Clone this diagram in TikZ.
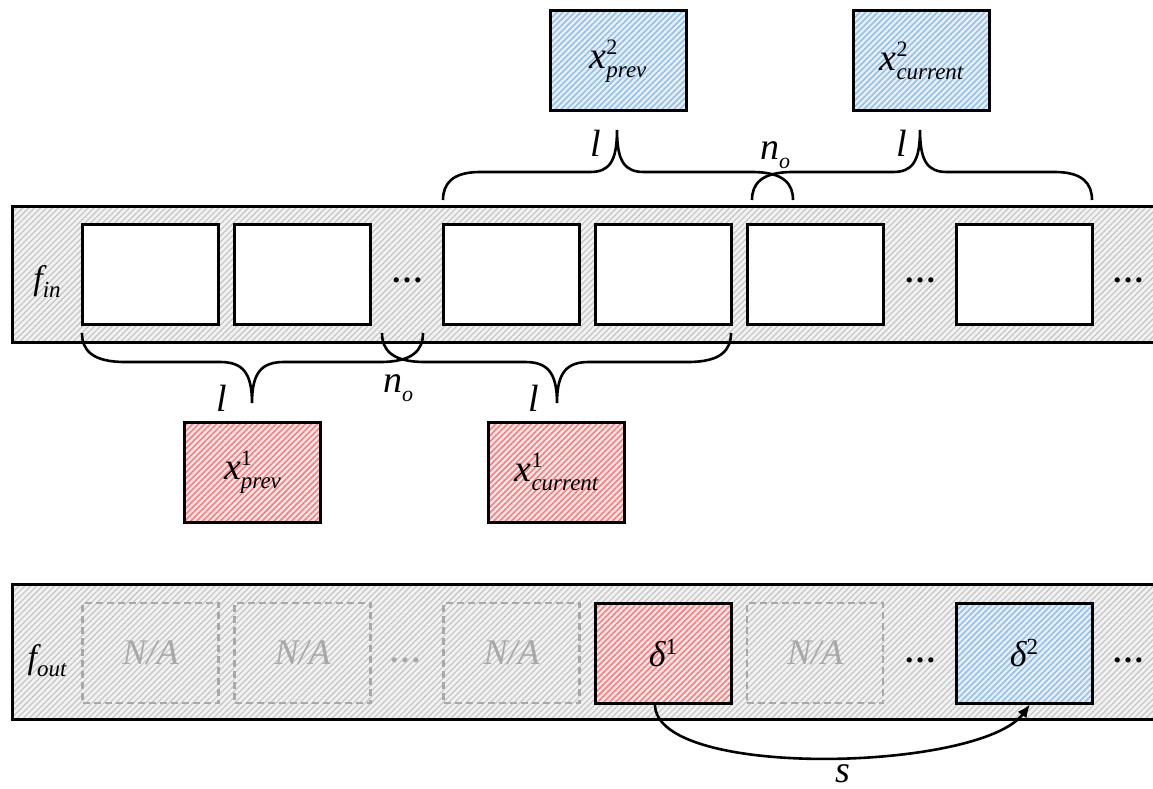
\documentclass[tikz,border=0pt]{standalone}
\usepackage{fontspec}
\setmainfont{Liberation Serif}
\usetikzlibrary{patterns.meta,arrows.meta}
\definecolor{barfill}{HTML}{F2F2F2}
\definecolor{barline}{HTML}{C8C8C8}
\definecolor{redfill}{HTML}{FDE4E4}
\definecolor{redline}{HTML}{F08282}
\definecolor{bluefill}{HTML}{E6F0FA}
\definecolor{blueline}{HTML}{98BFE6}
\definecolor{nagray}{HTML}{A8A8A8}
\newcommand{\fsz}[1]{\fontsize{#1}{#1}\selectfont}
\newcommand{\xlbl}[2]{\fsz{38}\itshape x\raisebox{14pt}{\rlap{\fsz{22}\upshape #1}}\raisebox{-9pt}{\fsz{23}\itshape #2}}
\newcommand{\dlbl}[1]{\fsz{36}\itshape δ\raisebox{12pt}{\fsz{23}\upshape #1}}
\newcommand{\flbl}[1]{\fsz{34}\itshape f\raisebox{-8pt}{\fsz{23}\itshape #1}}
\newcommand{\nolbl}{\fsz{38}\itshape n\raisebox{-9pt}{\fsz{22}\itshape o}}
\tikzset{
  barbox/.style={draw=black, line width=3pt, preaction={fill=barfill},
    pattern={Lines[angle=45,distance=4.2pt,line width=1.3pt]}, pattern color=barline, inner sep=0pt},
  boxbase/.style={draw=black, line width=3pt, minimum width=136pt, minimum height=100pt, inner sep=0pt},
  whitecell/.style={boxbase, fill=white},
  redcell/.style={boxbase, preaction={fill=redfill},
    pattern={Lines[angle=45,distance=4.2pt,line width=1.6pt]}, pattern color=redline},
  bluecell/.style={boxbase, preaction={fill=bluefill},
    pattern={Lines[angle=45,distance=4.2pt,line width=1.6pt]}, pattern color=blueline},
  nacell/.style={draw=nagray, dash pattern=on 7pt off 4pt, line width=2.5pt,
    minimum width=136pt, minimum height=100pt, inner sep=0pt, text=nagray, font={\fsz{36}\itshape}},
  dotlbl/.style={inner sep=0pt, font={\fsz{32}\bfseries}},
  graydots/.style={dotlbl, text=nagray},
  sym/.style={inner sep=0pt, font={\fsz{38}\itshape}},
  bracepath/.style={line width=2.6pt},
  arrowpath/.style={line width=2.6pt, -{Latex[length=13pt,width=11pt]}}
}
\begin{document}
\begin{tikzpicture}[x=1pt,y=-1pt]
\useasboundingbox (0,0) rectangle (1153,789);
\clip (0,0) rectangle (1153,789);

% ---------- input feature bar ----------
\node[barbox, minimum width=1163pt, minimum height=136pt] (barin) at (593.5,274) {};
\node[inner sep=0pt] (fin) at (47,282) {\flbl{in}};
\node[whitecell] (i1) at (150.5,274) {};
\node[whitecell] (i2) at (302.5,274) {};
\node[dotlbl] (id1) at (407,280) {…};
\node[whitecell] (i3) at (511.5,274) {};
\node[whitecell] (i4) at (663,274) {};
\node[whitecell] (i5) at (815,274) {};
\node[dotlbl] (id2) at (920,280) {…};
\node[whitecell] (i6) at (1024,274) {};
\node[dotlbl] (id3) at (1128,280) {…};

% ---------- upper (blue) windows ----------
\node[bluecell] (xp2) at (618,61) {\xlbl{2}{prev}};
\node[bluecell] (xc2) at (921.5,61) {\xlbl{2}{current}};

\draw[bracepath] (443,200) .. controls (443,184) and (452,172) .. (480,172) -- (590,172)
  .. controls (609,172) and (617,162) .. (617,130) .. controls (617,162) and (625,172) .. (644,172)
  -- (752,172) .. controls (784,172) and (793,184) .. (793,200);
\draw[bracepath] (752,200) .. controls (752,184) and (761,172) .. (793,172) -- (893,172)
  .. controls (912,172) and (920,162) .. (920,130) .. controls (920,162) and (928,172) .. (947,172)
  -- (1055,172) .. controls (1083,172) and (1092,184) .. (1092,200);
\node[sym] (lu1) at (596,143) {l};
\node[sym] (lu2) at (902,143) {l};
\node[inner sep=0pt] (nou) at (775,155) {\nolbl};

% ---------- lower (red) windows ----------
\draw[bracepath] (82,333) .. controls (82,350) and (92,362) .. (125,362) -- (220,362)
  .. controls (242,362) and (252,372) .. (252,403) .. controls (252,372) and (262,362) .. (284,362)
  -- (380,362) .. controls (413,362) and (423,350) .. (423,333);
\draw[bracepath] (382,333) .. controls (382,350) and (392,362) .. (425,362) -- (525,362)
  .. controls (547,362) and (557,372) .. (557,403) .. controls (557,372) and (567,362) .. (589,362)
  -- (688,362) .. controls (721,362) and (731,350) .. (731,333);
\node[sym] (ll1) at (222,398) {l};
\node[sym] (ll2) at (534,398) {l};
\node[inner sep=0pt] (nol) at (398,388) {\nolbl};

\node[redcell] (xp1) at (252.5,472) {\xlbl{1}{prev}};
\node[redcell] (xc1) at (556.5,472) {\xlbl{1}{current}};

% ---------- output feature bar ----------
\node[barbox, minimum width=1163pt, minimum height=135pt] (barout) at (593.5,651.5) {};
\node[inner sep=0pt] (fout) at (47,661) {\flbl{out}};
\node[nacell] (o1) at (150.5,653) {N/A};
\node[nacell] (o2) at (302.5,653) {N/A};
\node[graydots] (od1) at (405,660) {…};
\node[nacell] (o3) at (511.5,653) {N/A};
\node[redcell] (d1) at (663,653) {\dlbl{1}};
\node[nacell] (o5) at (815,653) {N/A};
\node[dotlbl] (od2) at (920,660) {…};
\node[bluecell] (d2) at (1024,653) {\dlbl{2}};
\node[dotlbl] (od3) at (1128,660) {…};

\draw[arrowpath] ([xshift=-8pt]d1.south) .. controls +(0,75) and +(-50,67) .. ([xshift=6pt]d2.south);
\node[sym] (slbl) at (843,774) {s};
\end{tikzpicture}
\end{document}
